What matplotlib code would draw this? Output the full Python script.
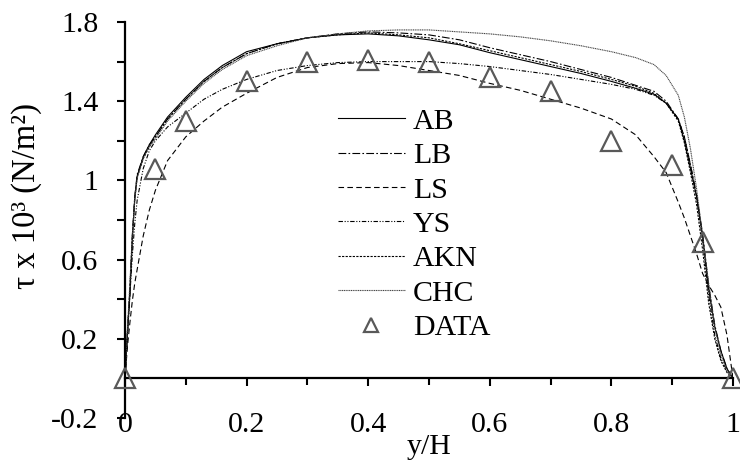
import numpy as np
import matplotlib
matplotlib.use("Agg")
import matplotlib.pyplot as plt
from matplotlib.ticker import FixedLocator

plt.rcParams['font.family'] = ['Liberation Serif', 'DejaVu Serif']

# wall-normal positions shared by every model profile
y_h = [0, 0.004, 0.008, 0.012, 0.016, 0.02, 0.03, 0.04, 0.05, 0.07, 0.1, 0.13,
       0.16, 0.2, 0.25, 0.3, 0.35, 0.4, 0.45, 0.5, 0.55, 0.6, 0.65, 0.7, 0.75,
       0.8, 0.84, 0.87, 0.89, 0.91, 0.92, 0.93, 0.94, 0.95, 0.96, 0.97, 0.98,
       0.99, 1.0]

tau_ab = [0, 0.22, 0.42, 0.70, 0.90, 1.02, 1.12, 1.18, 1.23, 1.32, 1.42, 1.51,
          1.58, 1.65, 1.69, 1.72, 1.735, 1.74, 1.73, 1.71, 1.685, 1.645, 1.61,
          1.575, 1.54, 1.50, 1.465, 1.435, 1.39, 1.31, 1.20, 1.06, 0.92, 0.72,
          0.45, 0.26, 0.14, 0.05, 0]
tau_lb = [0, 0.24, 0.45, 0.72, 0.92, 1.03, 1.12, 1.18, 1.22, 1.31, 1.41, 1.50,
          1.57, 1.64, 1.69, 1.72, 1.74, 1.75, 1.745, 1.735, 1.71, 1.67, 1.635,
          1.60, 1.56, 1.52, 1.48, 1.45, 1.40, 1.31, 1.22, 1.08, 0.93, 0.73,
          0.47, 0.27, 0.14, 0.05, 0]
tau_ls = [0, 0.16, 0.28, 0.39, 0.48, 0.55, 0.72, 0.85, 0.95, 1.10, 1.22, 1.30,
          1.37, 1.44, 1.52, 1.57, 1.59, 1.595, 1.58, 1.555, 1.53, 1.49, 1.455,
          1.41, 1.365, 1.31, 1.23, 1.12, 1.04, 0.89, 0.81, 0.72, 0.63, 0.53,
          0.47, 0.42, 0.36, 0.22, 0]
tau_ys = [0, 0.22, 0.42, 0.62, 0.78, 0.90, 1.06, 1.15, 1.20, 1.27, 1.34, 1.41,
          1.46, 1.51, 1.555, 1.58, 1.595, 1.60, 1.60, 1.60, 1.59, 1.575, 1.555,
          1.535, 1.51, 1.485, 1.46, 1.43, 1.39, 1.31, 1.22, 1.08, 0.92, 0.70,
          0.42, 0.22, 0.10, 0.04, 0]
tau_akn = [0, 0.23, 0.44, 0.71, 0.91, 1.02, 1.11, 1.17, 1.22, 1.31, 1.41, 1.50,
           1.57, 1.64, 1.69, 1.72, 1.735, 1.745, 1.735, 1.72, 1.69, 1.655, 1.62,
           1.585, 1.55, 1.51, 1.475, 1.44, 1.39, 1.30, 1.19, 1.04, 0.88, 0.65,
           0.38, 0.20, 0.09, 0.03, 0]
tau_chc = [0, 0.25, 0.48, 0.72, 0.90, 1.01, 1.11, 1.17, 1.21, 1.30, 1.40, 1.49,
           1.56, 1.63, 1.68, 1.72, 1.74, 1.755, 1.76, 1.76, 1.75, 1.74, 1.725,
           1.705, 1.68, 1.65, 1.62, 1.585, 1.53, 1.43, 1.32, 1.16, 0.96, 0.72,
           0.48, 0.26, 0.12, 0.04, 0]

# measured points
data_x = [0, 0.05, 0.1, 0.2, 0.3, 0.4, 0.5, 0.6, 0.7, 0.8, 0.9, 0.95, 1.0]
data_tau = [0, 1.06, 1.30, 1.50, 1.60, 1.61, 1.60, 1.52, 1.45, 1.20, 1.08, 0.69, 0]

fig = plt.figure(figsize=(7.4, 4.73), dpi=100)
ax = fig.add_axes([125 / 740, 55 / 473, 608 / 740, 396 / 473])

fs = 21.5
lw = 0.8
ax.plot(y_h, tau_ab, color='black', lw=lw, ls='-', label='AB')
ax.plot(y_h, tau_lb, color='black', lw=lw, ls=(0, (7, 2, 1.5, 2)), label='LB')
ax.plot(y_h, tau_ls, color='black', lw=lw, ls=(0, (5, 3)), label='LS')
ax.plot(y_h, tau_ys, color='black', lw=lw, ls=(0, (4, 1.5, 1, 1.5, 1, 1.5)), label='YS')
ax.plot(y_h, tau_akn, color='black', lw=lw, ls=(0, (2, 1.2)), label='AKN')
ax.plot(y_h, tau_chc, color='#444444', lw=lw, ls=(0, (1, 0.6)), label='CHC')
ax.plot(data_x, data_tau, ls='none', marker='^', ms=14, mfc='none',
        mec='#595959', mew=1.6, label='DATA', clip_on=False, zorder=5)

ax.set_xlim(0, 1)
ax.set_ylim(-0.2, 1.8)

for side in ['top', 'right']:
    ax.spines[side].set_visible(False)
ax.spines['bottom'].set_position(('data', 0))
ax.spines['left'].set_linewidth(1.6)
ax.spines['bottom'].set_linewidth(1.6)

ax.xaxis.set_major_locator(FixedLocator([0, 0.2, 0.4, 0.6, 0.8, 1.0]))
ax.xaxis.set_minor_locator(FixedLocator([0.1, 0.3, 0.5, 0.7, 0.9]))
ax.set_xticklabels(['0', '0.2', '0.4', '0.6', '0.8', '1'])
ax.yaxis.set_major_locator(FixedLocator([-0.2, 0.2, 0.6, 1.0, 1.4, 1.8]))
ax.yaxis.set_minor_locator(FixedLocator([0.4, 0.8, 1.2, 1.6]))
ax.set_yticklabels(['-0.2', '0.2', '0.6', '1', '1.4', '1.8'])

ax.tick_params(axis='x', which='major', direction='out', length=6, width=1.5,
               pad=18, labelsize=fs)
ax.tick_params(axis='x', which='minor', direction='out', length=5, width=1.5)
ax.tick_params(axis='y', which='both', direction='out', length=6, width=1.5,
               pad=13, labelsize=fs)

ax.set_xlabel('y/H', fontsize=fs, labelpad=-3)
ax.set_ylabel('τ x 10³ (N/m²)', fontsize=23.5)
ax.yaxis.set_label_coords(-0.137, 0.56)

ax.legend(loc='upper left', bbox_to_anchor=(0.350, 0.783), frameon=False,
          fontsize=fs, handlelength=2.24, handletextpad=0.27, labelspacing=0.25,
          numpoints=1, markerscale=0.7, borderpad=0, borderaxespad=0)

fig.savefig('out.png', dpi=100)
